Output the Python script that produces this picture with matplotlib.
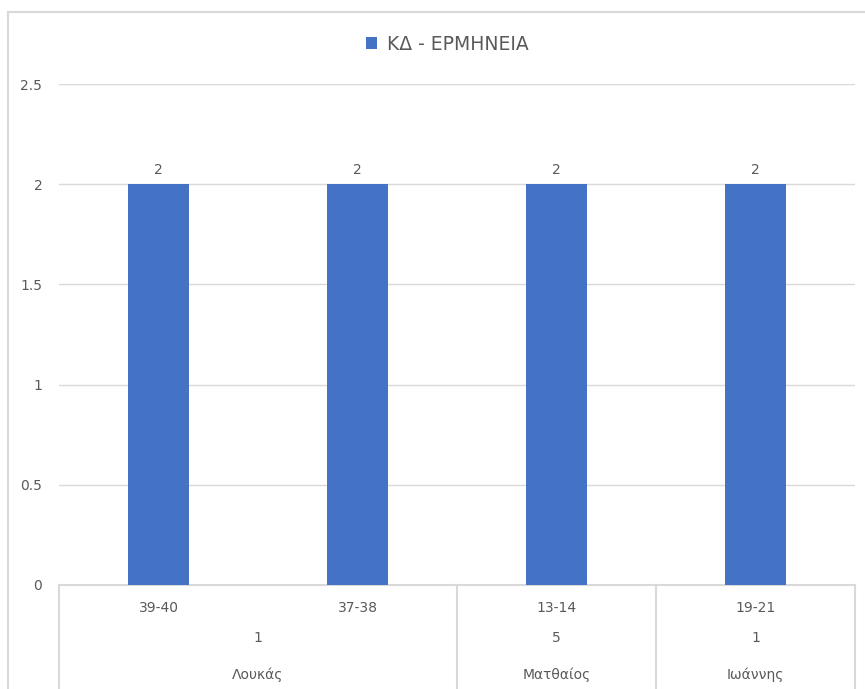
import matplotlib.pyplot as plt
from matplotlib.lines import Line2D
from matplotlib.transforms import blended_transform_factory

# data
ranges = ['39-40', '37-38', '13-14', '19-21']
chapters = ['1', '5', '1']
books = ['Λουκάς', 'Ματθαίος', 'Ιωάννης']
group_sizes = [2, 1, 1]
values = [2, 2, 2, 2]
series_name = 'ΚΔ - ΕΡΜΗΝΕΙΑ'

bar_color = '#4472c4'
grid_color = '#d9d9d9'
text_color = '#595959'

plt.rcParams['font.family'] = ['DejaVu Sans']

fig = plt.figure(figsize=(8.65, 6.89), dpi=100)
ax = fig.add_axes([59 / 865, 1 - 585 / 689, (855 - 59) / 865, (585 - 84) / 689])

x = list(range(len(ranges)))
bars = ax.bar(x, values, width=0.31, color=bar_color, label=series_name, zorder=3)
for xi, v in zip(x, values):
    ax.annotate(str(v), (xi, v), xytext=(0, 5), textcoords='offset points',
                ha='center', va='bottom', fontsize=10, color=text_color)

ax.set_xlim(-0.5, len(ranges) - 0.5)
ax.set_ylim(0, 2.5)
ax.set_yticks([0, 0.5, 1, 1.5, 2, 2.5])
ax.set_yticklabels(['0', '0.5', '1', '1.5', '2', '2.5'])
ax.tick_params(axis='y', length=0, pad=12, labelsize=10, labelcolor=text_color)
ax.set_xticks([])
ax.grid(axis='y', color=grid_color, linewidth=1, zorder=0)
for s in ['top', 'right', 'left']:
    ax.spines[s].set_visible(False)
ax.spines['bottom'].set_color(grid_color)
ax.spines['bottom'].set_linewidth(1.5)

# multi-level category axis
trans = blended_transform_factory(ax.transData, ax.transAxes)
for xi, lab in zip(x, ranges):
    ax.text(xi, -0.046, lab, transform=trans, ha='center', va='center',
            fontsize=10, color=text_color)
start = 0
dividers = [-0.5]
for size, ch, bk in zip(group_sizes, chapters, books):
    mid = start + (size - 1) / 2
    ax.text(mid, -0.106, ch, transform=trans, ha='center', va='center',
            fontsize=10, color=text_color)
    ax.text(mid, -0.18, bk, transform=trans, ha='center', va='center',
            fontsize=10, color=text_color)
    start += size
    dividers.append(start - 0.5)
for d in dividers:
    ax.add_line(Line2D([d, d], [0, -0.3], transform=trans, color=grid_color,
                       linewidth=1.5, clip_on=False))

# chart border
fig.add_artist(Line2D([8 / 865, 8 / 865], [0, 1 - 12 / 689], color=grid_color,
                      linewidth=1.5))
fig.add_artist(Line2D([8 / 865, 1], [1 - 12 / 689, 1 - 12 / 689], color=grid_color,
                      linewidth=1.5))

fig.legend(handles=[bars], labels=[series_name], loc='center',
           bbox_to_anchor=(0.517, 1 - 44 / 689), frameon=False, fontsize=13.5,
           handlelength=0.6, handleheight=0.6, handletextpad=0.5,
           labelcolor=text_color)

fig.savefig('out.png', dpi=100)
